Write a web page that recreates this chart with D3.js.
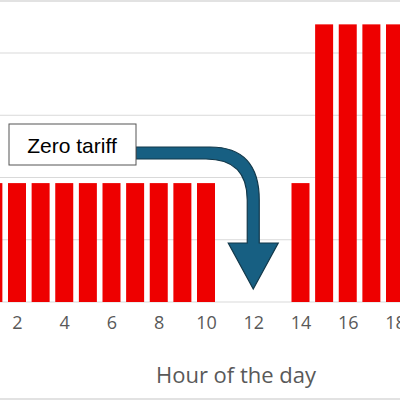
<!DOCTYPE html>
<html>
<head>
<meta charset="utf-8">
<script src="https://cdn.jsdelivr.net/npm/d3@7"></script>
<style>
  body { margin: 0; background: #fff; }
  svg { display: block; font-family: "Open Sans", "Noto Sans", sans-serif; }
</style>
</head>
<body>
<svg id="chart" width="400" height="400"></svg>
<script>
// Tariff level by hour (visible part of the chart)
const hours = [1, 2, 3, 4, 5, 6, 7, 8, 9, 10, 11, 12, 13, 14, 15, 16, 17, 18];
const tariff = [1.91, 1.91, 1.91, 1.91, 1.91, 1.91, 1.91, 1.91, 1.91, 1.91, 0, 0, 0, 1.91, 4.46, 4.46, 4.46, 4.46];
const tickHours = [2, 4, 6, 8, 10, 12, 14, 16, 18];
const gridValues = [0, 1, 2, 3, 4];

const svg = d3.select("#chart");

// hour -> centre x; one hour is about 23.6 px
const x = d3.scaleLinear().domain([2, 18]).range([17, 395]);
const y = d3.scaleLinear().domain([0, 4]).range([302, 53]);
const barW = 18;

// frame lines top and bottom
svg.append("line").attr("x1", 0).attr("x2", 400).attr("y1", 1).attr("y2", 1)
    .attr("stroke", "#d9d9d9").attr("stroke-width", 1.5);
svg.append("line").attr("x1", 0).attr("x2", 400).attr("y1", 399).attr("y2", 399)
    .attr("stroke", "#d9d9d9").attr("stroke-width", 1.5);

// gridlines
svg.append("g").selectAll("line").data(gridValues).join("line")
    .attr("x1", 0).attr("x2", 400)
    .attr("y1", d => y(d)).attr("y2", d => y(d))
    .attr("stroke", "#d9d9d9").attr("stroke-width", 1);

// bars
svg.append("g").selectAll("rect").data(hours).join("rect")
    .attr("x", (d) => x(d) - barW / 2)
    .attr("width", barW)
    .attr("y", (d, i) => y(tariff[i]))
    .attr("height", (d, i) => y(0) - y(tariff[i]))
    .attr("fill", "#ee0000");

// x axis labels
const xAxis = svg.append("g")
    .attr("transform", `translate(0,${y(0)})`)
    .call(d3.axisBottom(x).tickValues(tickHours).tickSize(0).tickPadding(14));
xAxis.select(".domain").remove();
xAxis.selectAll("text")
    .attr("font-size", 18).attr("fill", "#595959")
    .attr("font-family", "Open Sans, Noto Sans, sans-serif");

svg.append("text")
    .attr("x", 236).attr("y", 383)
    .attr("text-anchor", "middle")
    .attr("font-size", 22).attr("fill", "#595959")
    .text("Hour of the day");

// curved arrow from the label down into the zero-tariff gap
const ax = x(12);
const arrow = d3.path();
arrow.moveTo(136, 147);
arrow.lineTo(210, 147);
arrow.quadraticCurveTo(ax + 6, 147, ax + 6, 200);
arrow.lineTo(ax + 6, 243);
arrow.lineTo(ax + 25, 243);
arrow.lineTo(ax, 289);
arrow.lineTo(ax - 25, 243);
arrow.lineTo(ax - 6, 243);
arrow.lineTo(ax - 6, 200);
arrow.quadraticCurveTo(ax - 6, 159, 206, 159);
arrow.lineTo(136, 159);
arrow.closePath();
svg.append("path").attr("d", arrow.toString())
    .attr("fill", "#175f82").attr("stroke", "#12384a").attr("stroke-width", 1.2);

// label box
svg.append("rect")
    .attr("x", 9).attr("y", 124).attr("width", 127).attr("height", 41)
    .attr("fill", "#fff").attr("stroke", "#555").attr("stroke-width", 1);
svg.append("text")
    .attr("x", 72).attr("y", 153)
    .attr("text-anchor", "middle")
    .attr("font-size", 21).attr("fill", "#000")
    .attr("font-family", "Liberation Sans, Arial, sans-serif")
    .text("Zero tariff");
</script>
</body>
</html>
